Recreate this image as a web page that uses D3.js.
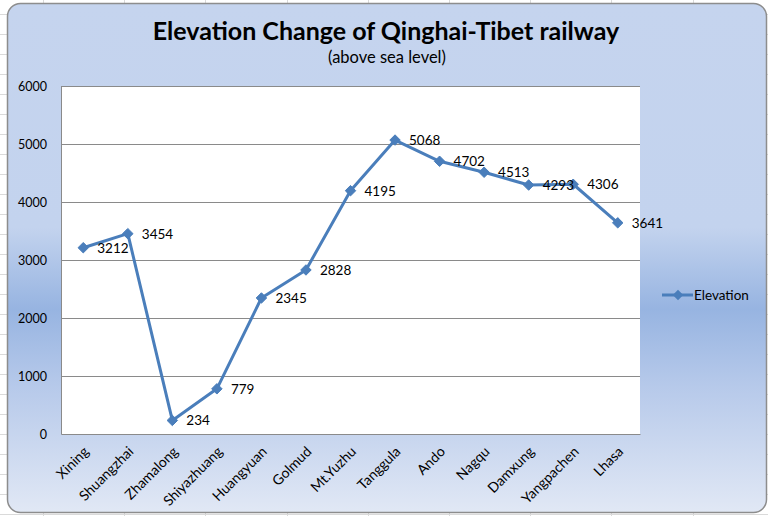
<!DOCTYPE html>
<html><head><meta charset="utf-8">
<script src="https://cdn.jsdelivr.net/npm/d3@7"></script>
<style>html,body{margin:0;padding:0;background:#fff;}svg{display:block;}</style>
</head><body>
<script>
const categories = ["Xining","Shuangzhai","Zhamalong","Shiyazhuang","Huangyuan","Golmud","Mt.Yuzhu","Tanggula","Ando","Nagqu","Damxung","Yangpachen","Lhasa"];
const elevation = [3212,3454,234,779,2345,2828,4195,5068,4702,4513,4293,4306,3641];
const yTicks = [0,1000,2000,3000,4000,5000,6000];
const seriesName = "Elevation";
const titleText = "Elevation Change of Qinghai-Tibet railway";
const subtitleText = "(above sea level)";

const W = 768, H = 516;
const font = "Lato, 'Open Sans', sans-serif";
const svg = d3.select("body").append("svg").attr("width", W).attr("height", H);

// spreadsheet background grid
const bg = svg.append("g").attr("stroke", "#dadada").attr("stroke-width", 1);
d3.range(43, W, 81.2).forEach(x => bg.append("line").attr("x1", Math.round(x)+0.5).attr("x2", Math.round(x)+0.5).attr("y1", 0).attr("y2", H));
d3.range(14, H, 20).forEach(y => bg.append("line").attr("x1", 0).attr("x2", W).attr("y1", y+0.5).attr("y2", y+0.5));

// card gradient
const defs = svg.append("defs");
const grad = defs.append("linearGradient").attr("id", "card").attr("x1", 0).attr("y1", 0).attr("x2", 0).attr("y2", 1);
[[0,"#c5d4ee"],[0.44,"#c3d3ee"],[0.6,"#97b4e1"],[0.75,"#b6c9ea"],[1,"#e1e8f5"]].forEach(([o,c]) =>
  grad.append("stop").attr("offset", o).attr("stop-color", c));

svg.append("rect").attr("x", 7.5).attr("y", 3.5).attr("width", 759).attr("height", 509)
  .attr("rx", 13).attr("fill", "url(#card)").attr("stroke", "#8d8d8d").attr("stroke-width", 1.5);

// plot area
const plot = {left: 61, right: 640, top: 86, bottom: 434};
svg.append("rect").attr("x", plot.left).attr("y", plot.top).attr("width", plot.right - plot.left)
  .attr("height", plot.bottom - plot.top).attr("fill", "#fff");

const x = d3.scaleBand().domain(categories).range([plot.left, plot.right]);
const y = d3.scaleLinear().domain([0, 6000]).range([plot.bottom, plot.top]);
const cx = d => x(d) + x.bandwidth() / 2;

// gridlines
svg.append("g").selectAll("line").data(yTicks.filter(t => t > 0)).join("line")
  .attr("x1", plot.left).attr("x2", plot.right)
  .attr("y1", d => Math.round(y(d)) + 0.5).attr("y2", d => Math.round(y(d)) + 0.5)
  .attr("stroke", "#8a8a8a").attr("stroke-width", 1);

// axes
const yAxis = svg.append("g").attr("transform", `translate(${plot.left},0)`)
  .call(d3.axisLeft(y).tickValues(yTicks).tickSize(0).tickPadding(14).tickFormat(d3.format("d")));
yAxis.select(".domain").attr("stroke", "#8a8a8a");
yAxis.selectAll("text").attr("font-family", font).attr("font-size", 12.5).attr("fill", "#000");

const xAxis = svg.append("g").attr("transform", `translate(0,${plot.bottom})`)
  .call(d3.axisBottom(x).tickSize(0).tickPadding(0));
xAxis.select(".domain").attr("stroke", "#8a8a8a");
xAxis.selectAll("text").attr("font-family", font).attr("font-size", 14).attr("fill", "#000")
  .attr("text-anchor", "end").attr("dy", "0.35em")
  .attr("transform", "translate(3,15) rotate(-45)");

// line
const lineColor = "#4a7ebb";
const data = categories.map((c, i) => ({c, v: elevation[i]}));
svg.append("path").datum(data)
  .attr("d", d3.line().x(d => cx(d.c)).y(d => y(d.v)))
  .attr("fill", "none").attr("stroke", lineColor).attr("stroke-width", 3).attr("stroke-linejoin", "round");

const diamond = d3.symbol().type(d3.symbolDiamond2 || d3.symbolDiamond).size(70);
svg.append("g").selectAll("path").data(data).join("path")
  .attr("d", diamond).attr("transform", d => `translate(${cx(d.c)},${y(d.v)})`)
  .attr("fill", lineColor).attr("stroke", lineColor).attr("stroke-width", 1);

svg.append("g").selectAll("text").data(data).join("text")
  .attr("x", d => cx(d.c) + 14).attr("y", d => y(d.v)).attr("dy", "0.36em")
  .attr("font-family", font).attr("font-size", 13.5).attr("fill", "#000").text(d => d.v);

// title
svg.append("text").attr("x", 386).attr("y", 40).attr("text-anchor", "middle")
  .attr("font-family", font).attr("font-weight", "bold").attr("font-size", 25).attr("fill", "#000")
  .text(titleText);
svg.append("text").attr("x", 387).attr("y", 63).attr("text-anchor", "middle")
  .attr("font-family", font).attr("font-size", 16.5).attr("fill", "#000")
  .text(subtitleText);

// legend
const lg = svg.append("g");
lg.append("line").attr("x1", 662).attr("x2", 693).attr("y1", 295).attr("y2", 295)
  .attr("stroke", lineColor).attr("stroke-width", 3);
lg.append("path").attr("d", diamond).attr("transform", "translate(678,295)").attr("fill", lineColor);
lg.append("text").attr("x", 694).attr("y", 295).attr("dy", "0.36em")
  .attr("font-family", font).attr("font-size", 13.5).attr("fill", "#000").text(seriesName);
</script>
</body></html>
